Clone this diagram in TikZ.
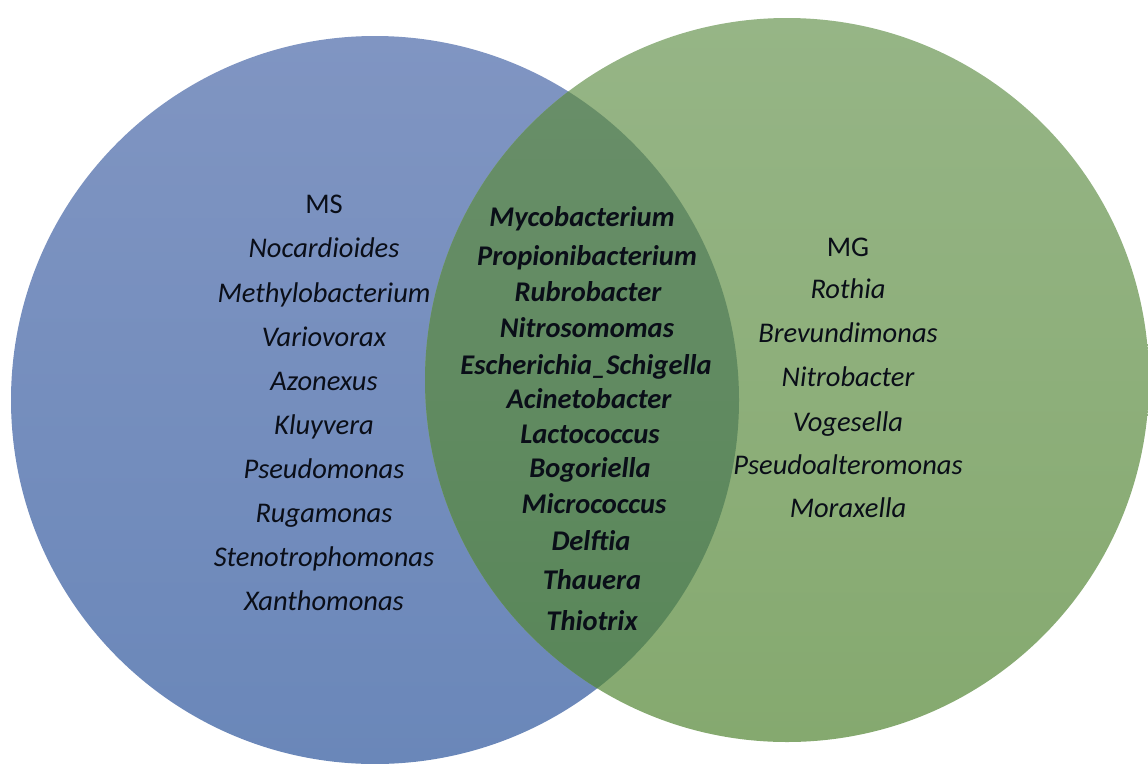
\documentclass[tikz,border=0pt]{standalone}
\usepackage{fontspec}
\setmainfont{Carlito}
\definecolor{bluetop}{RGB}{128,149,194}
\definecolor{bluebot}{RGB}{106,135,185}
\definecolor{greentop}{RGB}{150,181,134}
\definecolor{greenbot}{RGB}{133,169,111}
\definecolor{midtop}{RGB}{106,143,106}
\definecolor{midbot}{RGB}{88,134,88}
\definecolor{txt}{RGB}{10,14,24}
\begin{document}
\begin{tikzpicture}[x=1pt,y=-1pt,
  lbl/.style={anchor=base, inner sep=0pt, text=txt, font=\fontsize{28.5}{32}\selectfont\itshape},
  head/.style={anchor=base, inner sep=0pt, text=txt, font=\fontsize{28.5}{32}\selectfont},
  core/.style={anchor=base, inner sep=0pt, text=txt, font=\fontsize{28.5}{32}\selectfont\bfseries\itshape}]
\useasboundingbox (0,0) rectangle (1148,763);
\shade[top color=bluetop, bottom color=bluebot] (375,400) circle (364pt);
\shade[top color=greentop, bottom color=greenbot] (787,380) circle (362pt);
\begin{scope}
  \clip (375,400) circle (364pt);
  \shade[top color=midtop, bottom color=midbot] (787,380) circle (362pt);
\end{scope}
% left set
\node[head] (ms) at (324,213) {MS};
\foreach \y/\t [count=\i] in {257/Nocardioides, 302/Methylobacterium, 346/Variovorax, 390/Azonexus, 434/Kluyvera, 478/Pseudomonas, 522/Rugamonas, 566/Stenotrophomonas, 610/Xanthomonas}
  \node[lbl] (l\i) at (324,\y) {\t};
% right set
\node[head] (mg) at (848,256) {MG};
\foreach \y/\t [count=\i] in {298/Rothia, 342/Brevundimonas, 386/Nitrobacter, 431/Vogesella, 474/Pseudoalteromonas, 517/Moraxella}
  \node[lbl] (r\i) at (848,\y) {\t};
% shared
\foreach \x/\y/\t [count=\i] in {582/226/Mycobacterium, 587/265/Propionibacterium, 588/301/Rubrobacter, 587/337/Nitrosomomas, 586/374/Escherichia\_Schigella, 589/408/Acinetobacter, 590/443/Lactococcus, 590/477/Bogoriella, 594/513/Micrococcus, 591/550/Delftia, 592/589/Thauera, 592/630/Thiotrix}
  \node[core] (c\i) at (\x,\y) {\t};
\end{tikzpicture}
\end{document}
